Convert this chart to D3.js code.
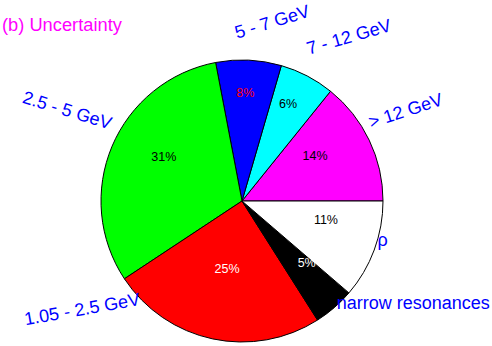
<!DOCTYPE html>
<html lang="en">
<head>
<meta charset="utf-8">
<title>uncertainty pie</title>
<script src="https://cdn.jsdelivr.net/npm/d3@7"></script>
<style>
  body { margin: 0; background: #fff; }
  text { font-family: "Liberation Sans", Arial, Helvetica, sans-serif; }
</style>
</head>
<body>
<div id="chart"></div>
<script>
// slices, counter-clockwise from 3 o'clock
var categories = ["> 12 GeV", "7 - 12 GeV", "5 - 7 GeV", "2.5 - 5 GeV", "1.05 - 2.5 GeV", "narrow resonances", "\u03c1"];
var shares = [14.2, 6.3, 7.5, 31.3, 24.7, 4.7, 11.3];
var pctLabels = ["14%", "6%", "8%", "31%", "25%", "5%", "11%"];

var sliceColors = ["#ff00ff", "#00ffff", "#0000ff", "#00ff00", "#ff0000", "#000000", "#ffffff"];
var pctColors = ["#000", "#000", "#ff0000", "#000", "#fff", "#fff", "#000"];

// label placement: polar angle (deg, ccw from east), distance from centre, text rotation
var pctLayout = [
  {ang: 31.8, r: 86},
  {ang: 64.7, r: 108},
  {ang: 88.2, r: 108},
  {ang: 150.3, r: 90},
  {ang: -102.5, r: 69},
  {ang: -43.4, r: 89},
  {ang: -12.6, r: 86}
];
var nameLayout = [
  {ang: 29, r: 187, rot: -18},
  {ang: 57, r: 196, rot: -16},
  {ang: 80.5, r: 182, rot: -17},
  {ang: 152.5, r: 197, rot: 17},
  {ang: 214, r: 193, rot: -10},
  {ang: -30.6, r: 199, rot: 0},
  {ang: -15.5, r: 146, rot: 0}
];

var width = 492, height = 346,
    cx = 242, cy = 201, R = 141;

function polar(l) {
    var a = l.ang * Math.PI / 180;
    return [l.r * Math.cos(a), -l.r * Math.sin(a)];
}

var svg = d3.select("#chart").append("svg")
    .attr("width", width)
    .attr("height", height);

svg.append("text")
    .attr("x", 2)
    .attr("y", 31)
    .attr("fill", "#ff00ff")
    .style("font-size", "18.3px")
    .text("(b) Uncertainty");

var pie = d3.pie()
    .sort(null)
    .value(function(d) { return d; })
    .startAngle(Math.PI / 2)
    .endAngle(Math.PI / 2 - 2 * Math.PI);

var arcs = pie(shares);

var arc = d3.arc().innerRadius(0).outerRadius(R);

var g = svg.append("g")
    .attr("transform", "translate(" + cx + "," + cy + ")");

g.selectAll("path.slice")
    .data(arcs)
    .enter()
    .append("path")
    .attr("class", "slice")
    .attr("d", arc)
    .attr("fill", function(d, i) { return sliceColors[i]; })
    .attr("stroke", "#000")
    .attr("stroke-width", 1)
    .attr("stroke-linejoin", "round");

// percentages
g.selectAll("text.pct")
    .data(arcs)
    .enter()
    .append("text")
    .attr("class", "pct")
    .attr("x", function(d, i) { return polar(pctLayout[i])[0]; })
    .attr("y", function(d, i) { return polar(pctLayout[i])[1]; })
    .attr("dy", "0.35em")
    .attr("text-anchor", "middle")
    .attr("fill", function(d, i) { return pctColors[i]; })
    .style("font-size", "12.5px")
    .text(function(d, i) { return pctLabels[i]; });

// category names
g.selectAll("text.name")
    .data(categories)
    .enter()
    .append("text")
    .attr("class", "name")
    .attr("transform", function(d, i) {
        var p = polar(nameLayout[i]);
        return "translate(" + p[0] + "," + p[1] + ") rotate(" + nameLayout[i].rot + ")";
    })
    .attr("dy", "0.35em")
    .attr("text-anchor", "middle")
    .attr("fill", "#0000ff")
    .style("font-size", "18px")
    .text(function(d) { return d; });
</script>
</body>
</html>
